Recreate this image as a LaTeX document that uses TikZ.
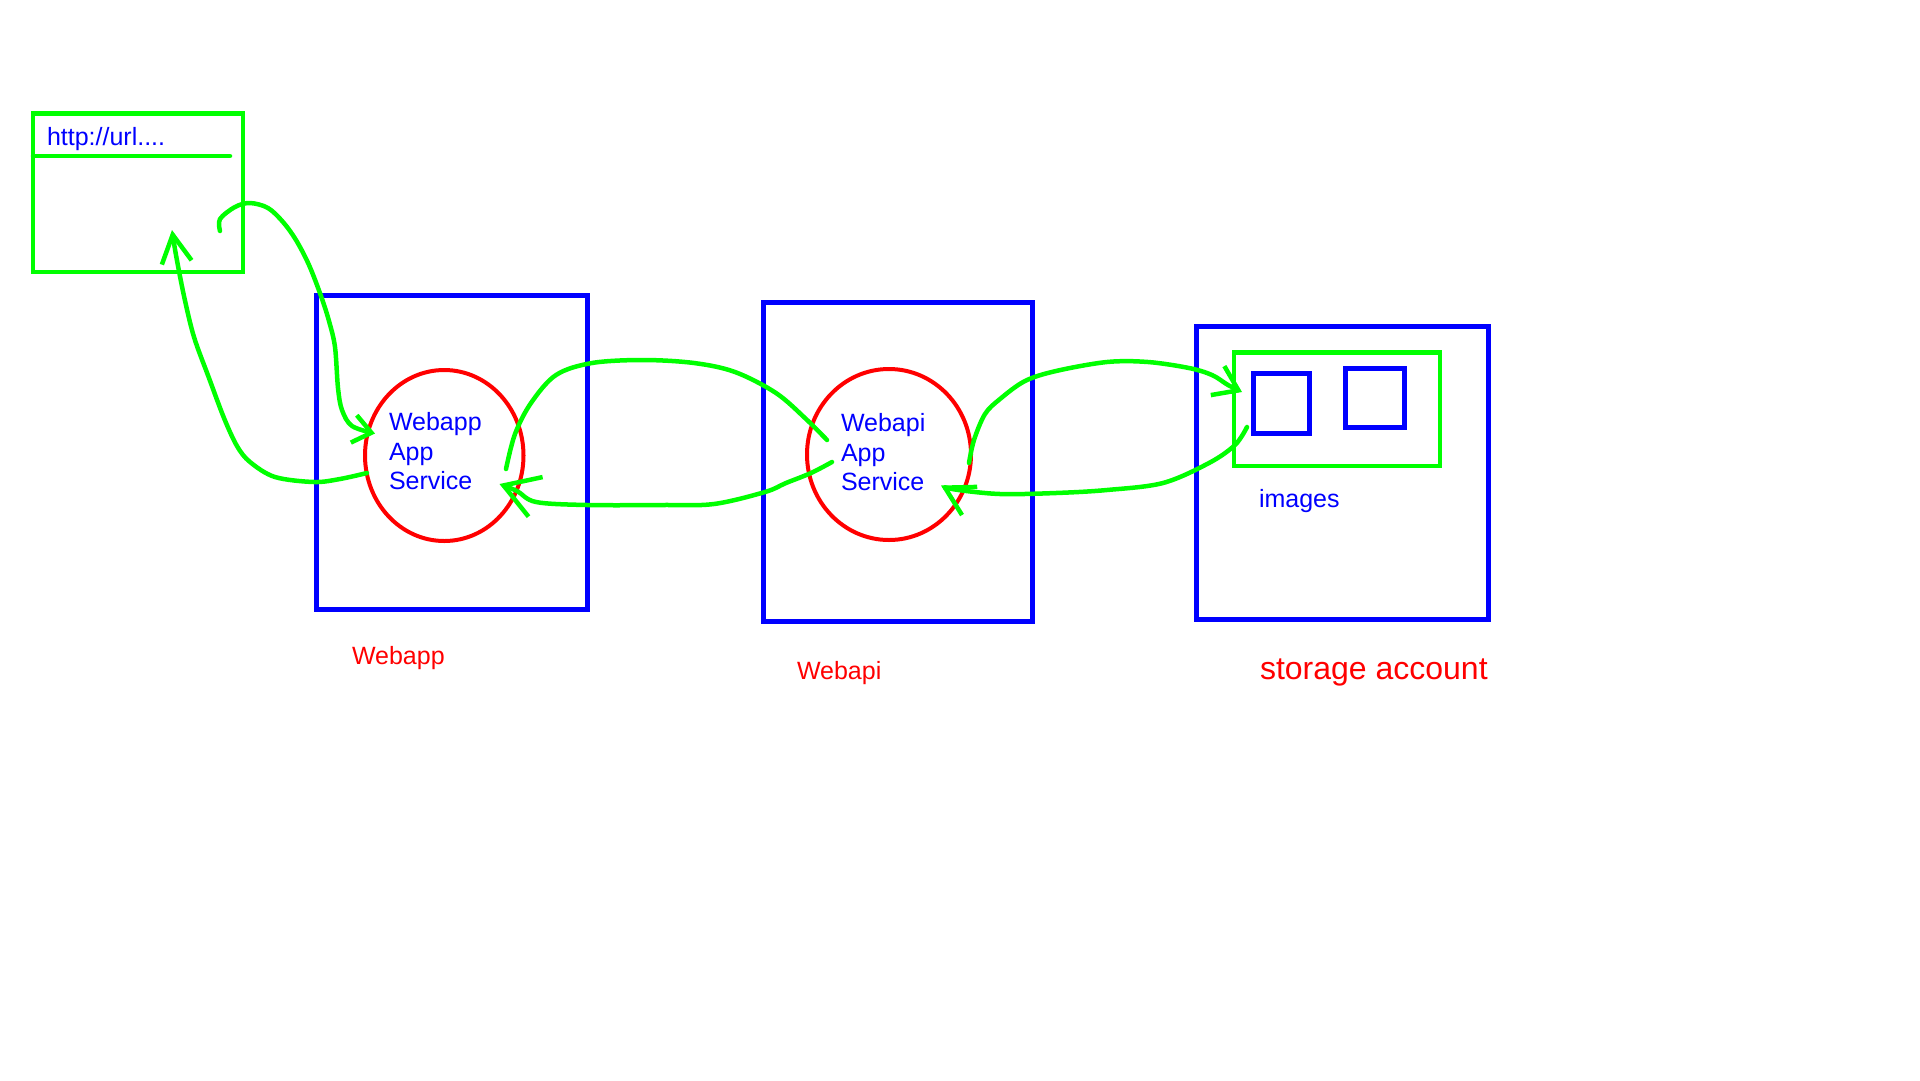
\documentclass[tikz,border=0pt]{standalone}
\usepackage{fontspec}
\setmainfont{Liberation Sans}
\usetikzlibrary{shapes.geometric,arrows.meta}
\definecolor{pblue}{RGB}{0,0,255}
\definecolor{pred}{RGB}{255,0,0}
\definecolor{pgreen}{RGB}{0,255,0}
\begin{document}
\begin{tikzpicture}[x=1pt,y=-1pt,
  bluebox/.style={draw=pblue,line width=5pt,rectangle,inner sep=0pt,outer sep=0pt},
  greenbox/.style={draw=pgreen,line width=4.5pt,rectangle,inner sep=0pt,outer sep=0pt},
  gline/.style={draw=pgreen,line width=4.5pt,line cap=round},
  svc/.style={draw=pred,line width=4pt,ellipse,inner sep=0pt,outer sep=0pt},
  flow/.style={draw=pgreen,line width=4.5pt,line cap=round,line join=round},
  tipped/.style 2 args={-{Straight Barb[length=#1,width=#2]}},
  btxt/.style={text=pblue,inner sep=0pt,outer sep=0pt,font=\fontsize{25}{29.5}\selectfont,align=left},
  rtxt/.style={text=pred,inner sep=0pt,outer sep=0pt,font=\fontsize{25}{30}\selectfont},
]
\useasboundingbox[fill=white] (0,0) rectangle (1920,1080);

% browser window
\node[greenbox, minimum width=210pt, minimum height=158.5pt] (browser) at (138,192.75) {};
\draw[gline] ([yshift=-42.5pt]browser.north west) -- ++(197,0);
\node[btxt, anchor=base west] (url) at (47,145.4) {http://url....};

% Webapp
\node[bluebox, minimum width=271pt, minimum height=314pt] (webapp) at (452,452.5) {};
\node[svc, minimum width=158.5pt, minimum height=171pt] (wasvc) at (444.25,455.5) {};
\node[btxt, anchor=north west] (watext) at (389,412.5) {Webapp\\App\\Service};
\node[rtxt, anchor=base west] (walbl) at (352,664.8) {Webapp};

% Webapi
\node[bluebox, minimum width=269pt, minimum height=319pt] (webapi) at (898,461.5) {};
\node[svc, minimum width=164pt, minimum height=171pt] (apsvc) at (889,454.5) {};
\node[btxt, anchor=north west] (aptext) at (841,413.5) {Webapi\\App\\Service};
\node[rtxt, anchor=base west] (aplbl) at (797,679.6) {Webapi};

% storage account
\node[bluebox, minimum width=292pt, minimum height=293pt] (storage) at (1342.5,473) {};
\node[greenbox, minimum width=206pt, minimum height=113.5pt] (images) at (1337,409.25) {};
\node[bluebox, minimum width=56pt, minimum height=60pt] (blobA) at (1281.5,403.5) {};
\node[bluebox, minimum width=59pt, minimum height=59pt] (blobB) at (1375,398) {};
\node[btxt, anchor=base west] (imglbl) at (1259,507.6) {images};
\node[rtxt, anchor=base west, font=\fontsize{32}{38}\selectfont] (salbl) at (1260,679.6) {storage account};

% connector end points
\coordinate (b1) at (220,231);
\coordinate (w1) at (375,433.5);
\coordinate (w2) at (367,473);
\coordinate (b2) at (172,230);
\coordinate (w3) at (506,469);
\coordinate (a3) at (827,440);
\coordinate (a4) at (832,462);
\coordinate (w4) at (499.5,484);
\coordinate (a5) at (969,463);
\coordinate (s5) at (1242,392);
\coordinate (s6) at (1247,427);
\coordinate (a6) at (941,485.5);

% browser -> Webapp
\draw[flow, tipped={18pt}{28pt}] plot[smooth, tension=0.55] coordinates {(b1) (220,219) (235,207) (250,203) (268,208) (283,222) (296,240) (309,265) (321,296) (329,321) (335,347) (338,388) (342,410) (352,426) (w1)};
% Webapp -> browser
\draw[flow, tipped={28pt}{30pt}] plot[smooth, tension=0.55] coordinates {(w2) (340,479) (314,482) (275,477) (250,462) (237,446) (224,418) (209,378) (194,337) (184,296) (176,255) (b2)};
% Webapp -- Webapi
\draw[flow] plot[smooth, tension=0.55] coordinates {(w3) (515,434) (531,403) (556,375) (592,363) (643,360) (694,363) (735,372) (776,393) (806,419) (a3)};
% Webapi -> Webapp
\draw[flow, tipped={34pt}{42pt}] plot[smooth, tension=0.55] coordinates {(a4) (811,473) (786,483) (765,492) (714,504) (663,505) (587,505) (536,502) (517,491) (w4)};
% Webapi -> images
\draw[flow, tipped={23pt}{32pt}] plot[smooth, tension=0.55] coordinates {(a5) (974,440) (985,414) (1000,399) (1025,381) (1056,371) (1107,362) (1148,362) (1189,368) (1212,375) (1228,385) (s5)};
% images -> Webapi
\draw[flow, tipped={28pt}{32pt}] plot[smooth, tension=0.55] coordinates {(s6) (1235,445) (1209,463) (1163,483) (1107,490) (1056,493) (1000,494) (955,489.5) (a6)};
\end{tikzpicture}
\end{document}
